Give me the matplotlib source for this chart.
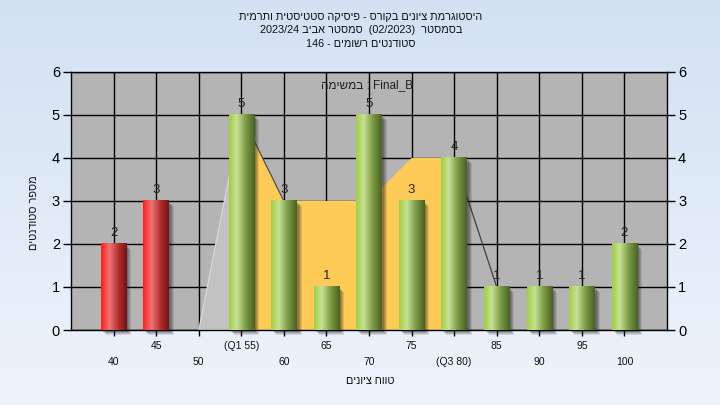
import re
import numpy as np
import matplotlib
matplotlib.use("Agg")
import matplotlib.pyplot as plt
from matplotlib.colors import LinearSegmentedColormap
from matplotlib.patches import Rectangle, Polygon

plt.rcParams['font.family'] = ['Liberation Sans', 'DejaVu Sans']

# ---------------- data ----------------
grades = [40, 45, 50, 55, 60, 65, 70, 75, 80, 85, 90, 95, 100]
counts = [2, 3, 0, 5, 3, 1, 5, 3, 4, 1, 1, 1, 2]
fail_grades = [40, 45]
tick_labels = ["40", "45", "50", "(Q1 55)", "60", "65", "70", "75", "(Q3 80)", "85", "90", "95", "100"]
# background area series (grade -> value)
iqr_grades = [55, 60, 65, 70, 75, 80]
iqr_values = [5, 3, 3, 3, 4, 4]
lead_grades = [50, 55]
lead_values = [0, 5]
tail_grades = [80, 85]
tail_values = [4, 1]

title_lines = ["היסטוגרמת ציונים בקורס - פיסיקה סטטיסטית ותרמית",
               "בסמסטר  (02/2023)  סמסטר אביב 2023/24",
               "סטודנטים רשומים - 146"]
series_label = "Final_B : במשימה"
xlabel = "טווח ציונים"
ylabel = "מספר סטודנטים"

# ---------------- simple RTL display helper ----------------
_LTR = re.compile(r'\([A-Za-z0-9_/. ]+\)|[A-Za-z0-9_]+(?:[./][A-Za-z0-9_]+)*')
_MIR = str.maketrans('()', ')(')


def rtl(s):
    parts, pos = [], 0
    for m in _LTR.finditer(s):
        if m.start() > pos:
            parts.append(('h', s[pos:m.start()]))
        parts.append(('l', m.group()))
        pos = m.end()
    if pos < len(s):
        parts.append(('h', s[pos:]))
    return ''.join(t if k == 'l' else t[::-1].translate(_MIR) for k, t in reversed(parts))


W, H = 720, 405
fig = plt.figure(figsize=(W / 100, H / 100), dpi=100)

# figure background gradient
bg = fig.add_axes([0, 0, 1, 1], zorder=-10)
grad = np.linspace(0, 1, 256).reshape(-1, 1)
bg.imshow(grad, aspect='auto', extent=[0, 1, 0, 1],
          cmap=LinearSegmentedColormap.from_list('bg', ['#D3E1F3', '#EEF4FC']))
bg.axis('off')

L, R, T, B = 71, 667, 72, 330
ax = fig.add_axes([L / W, 1 - B / H, (R - L) / W, (B - T) / H])
ax.set_facecolor('#B4B4B4')
ax.set_xlim(-1, 13)
ax.set_ylim(0, 6)

pos = {g: i for i, g in enumerate(grades)}
px_x = 14 / (R - L)   # data units per pixel
px_y = 6 / (B - T)

# grid
ax.set_yticks(range(7))
ax.set_xticks(range(len(grades)))
ax.grid(True, color='black', linewidth=1.0, zorder=0)
ax.set_axisbelow(True)
for s in ax.spines.values():
    s.set_color('black')
    s.set_linewidth(1.0)

# background area series
ax.add_patch(Polygon([(pos[lead_grades[0]], 0)] + [(pos[g], v) for g, v in zip(lead_grades, lead_values)]
                     + [(pos[lead_grades[-1]], 0)], closed=True, facecolor='#C2C2C2',
                     edgecolor='#DADADA', linewidth=0.8, zorder=1.5))
ax.add_patch(Polygon([(pos[iqr_grades[0]], 0)] + [(pos[g], v) for g, v in zip(iqr_grades, iqr_values)]
                     + [(pos[iqr_grades[-1]], 0)], closed=True, facecolor='#FFCB57',
                     edgecolor='none', zorder=1.6))
ax.plot([pos[iqr_grades[0]], pos[iqr_grades[1]]], [iqr_values[0], iqr_values[1]],
        color='#505050', linewidth=0.9, zorder=1.7)
ax.plot([pos[g] for g in tail_grades], tail_values, color='#404040', linewidth=0.9, zorder=1.7)

# bars
red_cmap = LinearSegmentedColormap.from_list('r', [(0, '#FF1C1C'), (0.33, '#F07474'),
                                                     (0.7, '#B02C2C'), (1, '#741414')])
green_cmap = LinearSegmentedColormap.from_list('g', [(0, '#A0CE44'), (0.3, '#C8E294'),
                                                       (0.65, '#7C9A44'), (1, '#4A6222')])
bw = 0.6
hgrad = np.linspace(0, 1, 128).reshape(1, -1)
for g, c in zip(grades, counts):
    x = pos[g]
    x0, x1 = x - bw / 2, x + bw / 2
    if c > 0:
        # soft shadow
        for k, a in enumerate([0.2, 0.17, 0.14, 0.12]):
            d = k + 2
            ax.add_patch(Rectangle((x0 + d * px_x, -d * px_y), bw, c, facecolor='#202020',
                                   edgecolor='none', alpha=a, zorder=2, clip_on=False))
        cmap = red_cmap if g in fail_grades else green_cmap
        ax.imshow(hgrad, cmap=cmap, aspect='auto', extent=[x0, x1, 0, c],
                  zorder=3, interpolation='bilinear')
        ax.text(x, c + 5 * px_y, str(c), ha='center', va='bottom', fontsize=9.5,
                color='#222222', zorder=5)

ax.set_xlim(-1, 13)
ax.set_ylim(0, 6)

# ticks
ax.tick_params(axis='y', which='both', left=True, right=True, labelleft=True, labelright=True,
               direction='out', length=6, width=1, colors='black', labelsize=10.5, pad=2)
ax.tick_params(axis='x', direction='out', length=4, width=1, colors='black', labelbottom=False)
for i, lab in enumerate(tick_labels):
    off = -16 if i % 2 == 1 else -32
    ax.annotate(lab, xy=(i, 0), xycoords=('data', 'axes fraction'), xytext=(0, off),
                textcoords='offset pixels', ha='center', va='center', fontsize=7.5,
                color='#111111', annotation_clip=False)

# texts
for yy, line in zip([17, 30, 44], title_lines):
    fig.text(361 / W, 1 - yy / H, rtl(line), ha='center', va='center', fontsize=7.8, color='#111111')
fig.text(367 / W, 1 - 85 / H, rtl(series_label), ha='center', va='center', fontsize=8.5, color='#202020')
fig.text(370 / W, 1 - 381 / H, rtl(xlabel), ha='center', va='center', fontsize=7.8, color='#111111')
fig.text(34 / W, 1 - 213 / H, rtl(ylabel), ha='center', va='center', fontsize=7.8, rotation=90,
         color='#111111')

fig.savefig('out.png', dpi=100)
